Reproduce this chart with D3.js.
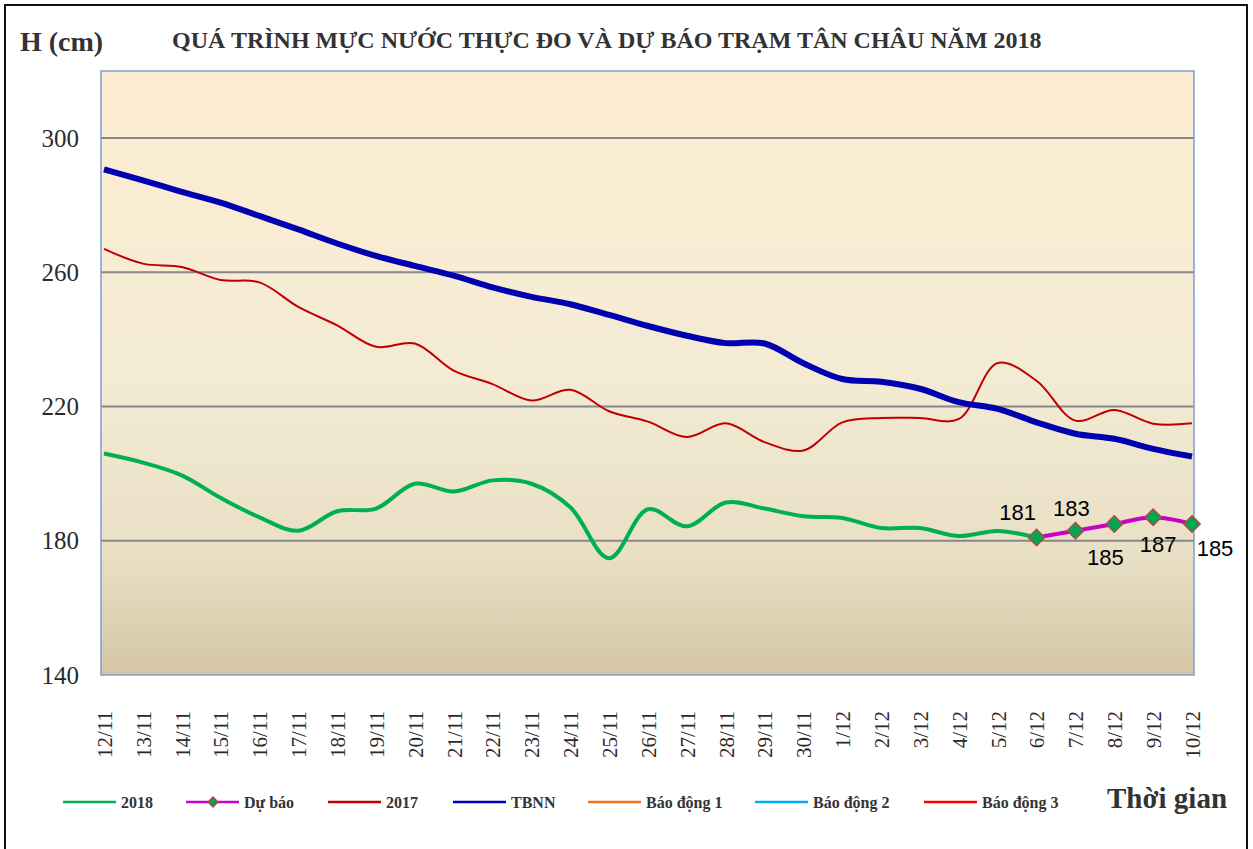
<!DOCTYPE html>
<html>
<head>
<meta charset="utf-8">
<script src="https://cdn.jsdelivr.net/npm/d3@7"></script>
<style>
  body { margin: 0; background: #fff; }
  svg { display: block; }
</style>
</head>
<body>
<div class="chart"></div>
<script>
// ngày (trục hoành)
const days = [ "12/11", "13/11", "14/11", "15/11", "16/11", "17/11", "18/11", "19/11", "20/11",
  "21/11", "22/11", "23/11", "24/11", "25/11", "26/11", "27/11", "28/11", "29/11", "30/11",
  "1/12", "2/12", "3/12", "4/12", "5/12", "6/12", "7/12", "8/12", "9/12", "10/12" ];

// mực nước thực đo 2018 (đến 6/12)
const h2018 = [ 206, 203.3, 199.5, 192.8, 187, 183, 188.8, 189.6, 197, 194.7, 198, 197, 190,
  174.8, 189.4, 184.3, 191.4, 189.6, 187.3, 186.8, 183.8, 183.8, 181.4, 182.9, 181 ];

// dự báo 6/12 - 10/12
const forecastDays = [ "6/12", "7/12", "8/12", "9/12", "10/12" ];
const forecast = [ 181, 183, 185, 187, 185 ];

// cùng kỳ 2017
const h2017 = [ 267, 262.6, 261.6, 257.7, 257, 249.7, 244.2, 237.8, 238.8, 230.7, 226.7, 221.8,
  225, 218.6, 215.5, 210.9, 215, 209.4, 206.9, 215.3, 216.6, 216.6, 216.3, 233, 227.7, 215.8,
  219, 214.9, 215 ];

// trung bình nhiều năm
const tbnn = [ 290.7, 287.4, 284, 280.8, 276.8, 272.8, 268.6, 264.9, 261.9, 259, 255.5, 252.7,
  250.5, 247.3, 244, 241.1, 238.9, 238.8, 232.9, 228.2, 227.4, 225.3, 221.3, 219.3, 215.3,
  211.9, 210.4, 207.4, 205.1 ];

const yTicks = [ 140, 180, 220, 260, 300 ];

const legendNames = [ "2018", "Dự báo", "2017", "TBNN", "Báo động 1", "Báo động 2", "Báo động 3" ];
const legendColors = [ "#00b050", "#c800c8", "#c00000", "#0000b0", "#f07020", "#00b0f0", "#ff0000" ];

const width = 1253;
const height = 849;
const plot = { left: 101, right: 1194, top: 71, bottom: 675 };
const serif = "'Liberation Serif', 'Times New Roman', serif";
const sans = "'Liberation Sans', Arial, sans-serif";

const svg = d3.select( ".chart" )
  .append( "svg" )
    .attr( "width", width )
    .attr( "height", height );

// khung ngoài
svg.append( "rect" )
  .attr( "x", 5 ).attr( "y", 5 )
  .attr( "width", 1242 ).attr( "height", 900 )
  .attr( "fill", "none" )
  .attr( "stroke", "#111" )
  .attr( "stroke-width", 2 );

const grad = svg.append( "defs" ).append( "linearGradient" )
  .attr( "id", "bg" )
  .attr( "x1", 0 ).attr( "y1", 0 ).attr( "x2", 0 ).attr( "y2", 1 );
[ [ 0, "#fdedd1" ], [ 0.5, "#f4ebd5" ], [ 0.8, "#e8dfc5" ], [ 1, "#d4c6a4" ] ].forEach( s =>
  grad.append( "stop" ).attr( "offset", s[0] ).attr( "stop-color", s[1] ) );

const xScale = d3.scalePoint()
  .domain( days )
  .range( [ 104, 1192 ] );

const yScale = d3.scaleLinear()
  .domain( [ 140, 320 ] )
  .range( [ plot.bottom, plot.top ] );

svg.append( "rect" )
  .attr( "x", plot.left ).attr( "y", plot.top )
  .attr( "width", plot.right - plot.left )
  .attr( "height", plot.bottom - plot.top )
  .attr( "fill", "url(#bg)" );

// lưới ngang
svg.append( "g" )
  .selectAll( "line" )
  .data( yTicks.filter( d => d > 140 ) )
  .enter()
    .append( "line" )
    .attr( "x1", plot.left ).attr( "x2", plot.right )
    .attr( "y1", d => yScale( d ) ).attr( "y2", d => yScale( d ) )
    .attr( "stroke", "#878787" )
    .attr( "stroke-width", 2 );

svg.append( "rect" )
  .attr( "x", plot.left ).attr( "y", plot.top )
  .attr( "width", plot.right - plot.left )
  .attr( "height", plot.bottom - plot.top )
  .attr( "fill", "none" )
  .attr( "stroke", "#7f9fc8" )
  .attr( "stroke-width", 1.5 );

// trục tung
const yAxis = svg.append( "g" )
  .attr( "transform", `translate( ${ plot.left }, 0 )` )
  .call( d3.axisLeft( yScale ).tickValues( yTicks ).tickSize( 0 ).tickPadding( 22 ) );
yAxis.select( ".domain" ).remove();
yAxis.selectAll( "text" )
  .attr( "font-family", serif )
  .attr( "font-size", 25 )
  .attr( "fill", "#2b2b2b" );

// trục hoành
const xAxis = svg.append( "g" )
  .attr( "transform", `translate( 0, ${ plot.bottom } )` )
  .call( d3.axisBottom( xScale ).tickSize( 0 ) );
xAxis.select( ".domain" ).remove();
xAxis.selectAll( "text" )
  .attr( "font-family", serif )
  .attr( "font-size", 21 )
  .attr( "fill", "#2b2b2b" )
  .attr( "text-anchor", "end" )
  .attr( "transform", "translate( 0, 31 ) rotate( -90 )" )
  .attr( "x", 0 ).attr( "y", 0 ).attr( "dy", "0.35em" );

const line = d3.line()
  .x( d => xScale( d.day ) )
  .y( d => yScale( d.value ) )
  .curve( d3.curveCatmullRom.alpha( 0.5 ) );

const series = ( labels, values ) => values.map( ( v, i ) => ( { day: labels[i], value: v } ) );

svg.append( "path" )
  .datum( series( days, h2017 ) )
  .attr( "d", line )
  .attr( "fill", "none" )
  .attr( "stroke", "#c00000" )
  .attr( "stroke-width", 2 );

svg.append( "path" )
  .datum( series( days, tbnn ) )
  .attr( "d", line )
  .attr( "fill", "none" )
  .attr( "stroke", "#0000b0" )
  .attr( "stroke-width", 6 );

svg.append( "path" )
  .datum( series( days, h2018 ) )
  .attr( "d", line )
  .attr( "fill", "none" )
  .attr( "stroke", "#00b050" )
  .attr( "stroke-width", 4 );

const fc = series( forecastDays, forecast );
svg.append( "path" )
  .datum( fc )
  .attr( "d", line )
  .attr( "fill", "none" )
  .attr( "stroke", "#c800c8" )
  .attr( "stroke-width", 4 );

const diamond = d3.symbol().type( d3.symbolDiamond2 ).size( 170 );
svg.append( "g" )
  .selectAll( "path" )
  .data( fc )
  .enter()
    .append( "path" )
    .attr( "d", diamond )
    .attr( "transform", d => `translate( ${ xScale( d.day ) }, ${ yScale( d.value ) } )` )
    .attr( "fill", "#00a650" )
    .attr( "stroke", "#b04a48" )
    .attr( "stroke-width", 1.5 );

// nhãn giá trị dự báo
const labelOffsets = [ [ -19, -25 ], [ -4, -22 ], [ -9, 33 ], [ 5, 27 ], [ 23, 24 ] ];
svg.append( "g" )
  .selectAll( "text" )
  .data( fc )
  .enter()
    .append( "text" )
    .attr( "x", ( d, i ) => xScale( d.day ) + labelOffsets[i][0] )
    .attr( "y", ( d, i ) => yScale( d.value ) + labelOffsets[i][1] )
    .attr( "dy", "0.35em" )
    .attr( "text-anchor", "middle" )
    .attr( "font-family", sans )
    .attr( "font-size", 22 )
    .attr( "fill", "#000" )
    .text( d => d.value );

// tiêu đề
svg.append( "text" )
  .attr( "x", 20 ).attr( "y", 51 )
  .attr( "font-family", serif )
  .attr( "font-size", 28 )
  .attr( "font-weight", "bold" )
  .attr( "fill", "#333" )
  .text( "H (cm)" );

svg.append( "text" )
  .attr( "x", 172 ).attr( "y", 48 )
  .attr( "font-family", serif )
  .attr( "font-size", 24 )
  .attr( "font-weight", "bold" )
  .attr( "fill", "#333" )
  .text( "QUÁ TRÌNH MỰC NƯỚC THỰC ĐO VÀ DỰ BÁO TRẠM TÂN CHÂU NĂM 2018" );

svg.append( "text" )
  .attr( "x", 1107 ).attr( "y", 808 )
  .attr( "font-family", serif )
  .attr( "font-size", 29 )
  .attr( "font-weight", "bold" )
  .attr( "fill", "#333" )
  .text( "Thời gian" );

// chú thích
const legendX = [ 63, 186, 328, 453, 588, 755, 924 ];
const legend = svg.append( "g" )
  .selectAll( "g" )
  .data( legendNames )
  .enter()
    .append( "g" )
    .attr( "transform", ( d, i ) => `translate( ${ legendX[i] }, 802 )` );

legend.append( "line" )
  .attr( "x1", 0 ).attr( "x2", 53 )
  .attr( "stroke", ( d, i ) => legendColors[i] )
  .attr( "stroke-width", 2.5 );

legend.filter( d => d === "Dự báo" )
  .append( "path" )
  .attr( "d", d3.symbol().type( d3.symbolDiamond2 ).size( 60 ) )
  .attr( "transform", "translate( 27, 0 )" )
  .attr( "fill", "#00a650" )
  .attr( "stroke", "#b04a48" )
  .attr( "stroke-width", 1.5 );

legend.append( "text" )
  .attr( "x", 58 )
  .attr( "dy", "0.35em" )
  .attr( "font-family", serif )
  .attr( "font-size", 16 )
  .attr( "font-weight", "bold" )
  .attr( "fill", "#333" )
  .text( d => d );

// dịch nhãn trục hoành xuống một chút
xAxis.selectAll( "text" ).attr( "transform", "translate( 0, 36 ) rotate( -90 )" );
</script>
</body>
</html>
